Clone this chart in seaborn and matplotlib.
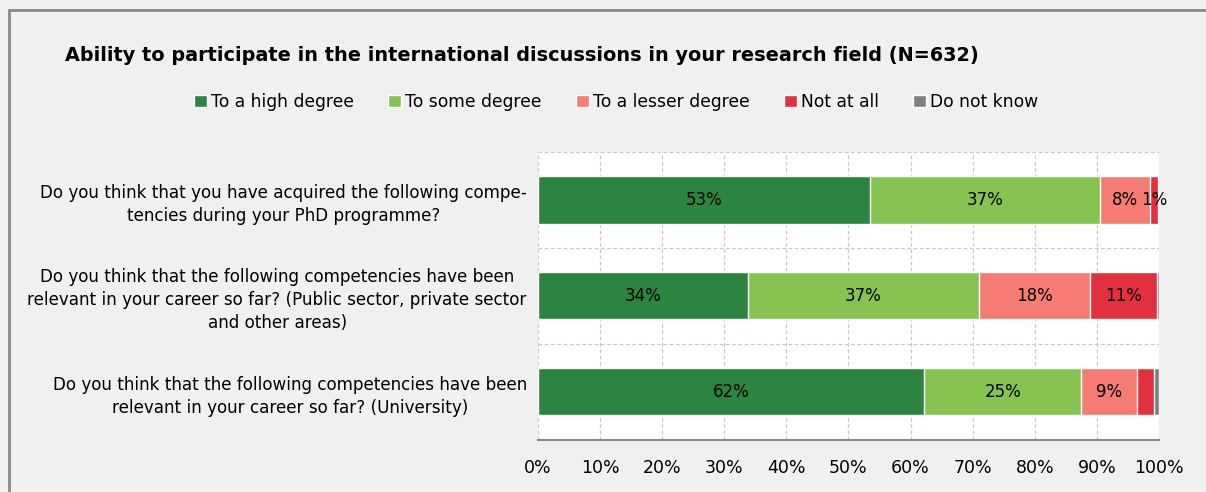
import matplotlib.pyplot as plt
import seaborn as sns
import numpy as np
import pandas as pd
from matplotlib.lines import Line2D
from matplotlib.patches import Patch

questions = [
    "Do you think that you have acquired the following compe-\ntencies during your PhD programme?",
    "Do you think that the following competencies have been\nrelevant in your career so far? (Public sector, private sector\nand other areas)",
    "Do you think that the following competencies have been\nrelevant in your career so far? (University)",
]
categories = ["To a high degree", "To some degree", "To a lesser degree", "Not at all", "Do not know"]
high = [53.5, 33.8, 62.2]
some = [37.0, 37.2, 25.3]
lesser = [8.1, 17.9, 9.0]
not_at_all = [1.2, 10.8, 2.7]
dont_know = [0.2, 0.3, 0.8]
bar_labels = [
    ["53%", "37%", "8%", "1%", ""],
    ["34%", "37%", "18%", "11%", ""],
    ["62%", "25%", "9%", "", ""],
]
colors = ["#2b8540", "#86c350", "#f47c72", "#e3303f", "#7f7f7f"]

series = [high, some, lesser, not_at_all, dont_know]
cum = np.cumsum(np.array(series), axis=0)

sns.set_style("white")
plt.rcParams['font.family'] = ['DejaVu Sans']
plt.rcParams['text.color'] = 'black'
plt.rcParams['xtick.labelcolor'] = 'black'
plt.rcParams['ytick.labelcolor'] = 'black'

fig = plt.figure(figsize=(12.06, 4.92), dpi=100, facecolor="#f0f0f0")
ax = fig.add_axes([0.446, 0.106, 0.515, 0.585])
ax.set_facecolor("white")

# stacked bars: draw cumulative totals from the outermost layer inwards
for i in range(len(categories) - 1, -1, -1):
    df = pd.DataFrame({"q": questions, "v": cum[i]})
    sns.barplot(data=df, x="v", y="q", orient="h", color=colors[i],
                width=0.49, saturation=1, ax=ax, zorder=3)

for r in range(len(questions)):
    starts = np.concatenate([[0], cum[:-1, r]])
    for i in range(len(categories)):
        lab = bar_labels[r][i]
        if lab:
            ax.text(starts[i] + series[i][r] / 2, r, lab, ha="center", va="center",
                    fontsize=12, color="black", zorder=5)

ax.set_xlim(0, 100)
ax.set_ylim(2.5, -0.5)
ax.set_xticks(np.arange(0, 101, 10))
ax.set_xticklabels([f"{t}%" for t in range(0, 101, 10)], fontsize=12.5)
ax.set_xlabel("")
ax.set_ylabel("")
ax.tick_params(axis="y", length=0, labelsize=12.1, pad=8)
for t in ax.get_yticklabels():
    t.set_multialignment("center")
    t.set_linespacing(1.35)
ax.tick_params(axis="x", direction="out", length=5, width=1.5, color="#888888", pad=9)
for x in range(0, 101, 10):
    ax.axvline(x, color="#c8c8c8", ls=(0, (3, 2)), lw=0.9, zorder=1)
for y in [-0.5, 0.5, 1.5]:
    ax.axhline(y, color="#c8c8c8", ls=(0, (3, 2)), lw=0.9, zorder=1)
for s in ["top", "right", "left"]:
    ax.spines[s].set_visible(False)
ax.spines["bottom"].set_color("#888888")
ax.spines["bottom"].set_linewidth(1.5)

fig.text(0.054, 0.888, "Ability to participate in the international discussions in your research field (N=632)",
         fontsize=13.9, fontweight="bold", ha="left", va="center")

handles = [Patch(facecolor=c, label=l) for c, l in zip(colors, categories)]
fig.legend(handles=handles, loc="center", bbox_to_anchor=(0.511, 0.793), ncol=5, frameon=False,
           fontsize=12.3, handlelength=0.75, handleheight=0.75, handletextpad=0.25, columnspacing=2.0)

# outer frame (left and top edges)
fig.add_artist(Line2D([0.0075, 0.0075], [0, 0.98], transform=fig.transFigure, color="#888888", lw=2))
fig.add_artist(Line2D([0.0075, 1], [0.98, 0.98], transform=fig.transFigure, color="#888888", lw=2))

fig.savefig("out.png", dpi=100, facecolor=fig.get_facecolor())
